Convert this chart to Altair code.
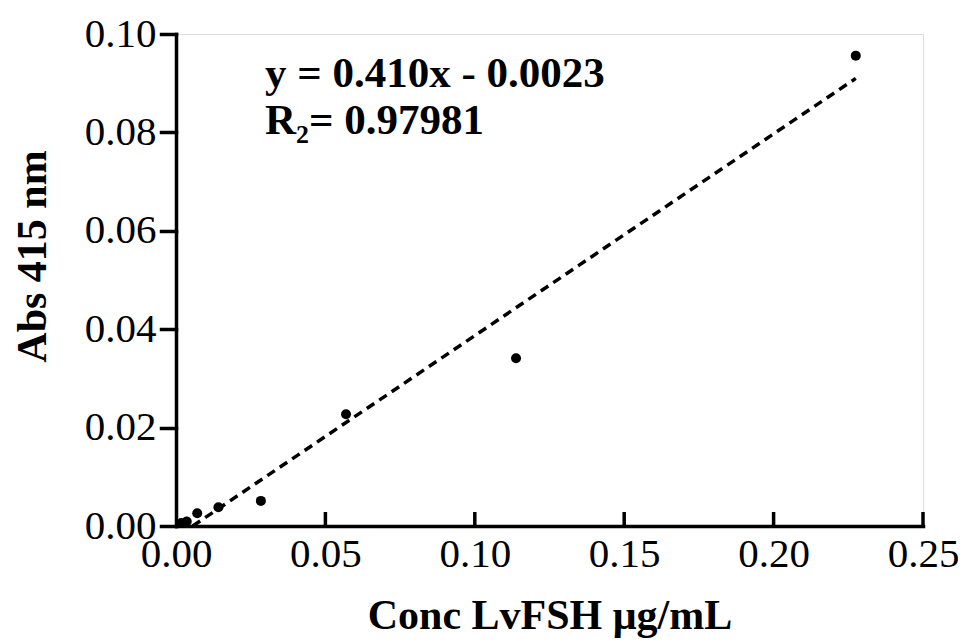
import altair as alt
import pandas as pd

# Data
conc = [0.0018, 0.0036, 0.0071, 0.0142, 0.0284, 0.0569, 0.1138, 0.2275]
absorb = [0.0006, 0.0009, 0.0026, 0.0038, 0.0051, 0.0227, 0.0341, 0.0956]

slope = 0.410
intercept = -0.0023
fit_x = [0.0056, 0.2275]

x_ticks = [0.0, 0.05, 0.10, 0.15, 0.20, 0.25]
y_ticks = [0.0, 0.02, 0.04, 0.06, 0.08, 0.10]

ann_text = ["y = 0.410x - 0.0023", "R\u2082= 0.97981"]
ann_x = [0.0298, 0.0298]
ann_y = [0.0893, 0.0796]

W, H = 747, 492
FONT = "Liberation Serif"

pts = pd.DataFrame({"x": conc, "y": absorb})
fit = pd.DataFrame({"x": fit_x, "y": [slope * v + intercept for v in fit_x]})
ticks_df = pd.DataFrame({"t": x_ticks[1:]})
ann = pd.DataFrame({"x": ann_x, "y": ann_y, "label": ann_text})

xscale = alt.Scale(domain=[0, 0.25], nice=False, zero=True)
yscale = alt.Scale(domain=[0, 0.10], nice=False, zero=True)

xaxis = alt.Axis(
    values=x_ticks, format=".2f", title="Conc LvFSH \u03bcg/mL",
    grid=False, ticks=False, domainColor="black", domainWidth=3.5,
    domainCap="square", labelFont=FONT, labelFontSize=41, labelColor="black",
    labelPadding=8, labelFlush=False, labelOverlap=False,
    titleFont=FONT, titleFontSize=42, titleFontWeight="bold", titleColor="black",
    titleX=W / 2, titleY=102, titleBaseline="alphabetic", titleAlign="center",
)
yaxis = alt.Axis(
    values=y_ticks, format=".2f", title="Abs 415 nm",
    grid=False, ticks=True, tickSize=15, tickWidth=3.5, tickColor="black",
    tickCap="square", domainColor="black", domainWidth=3.5, domainCap="square",
    labelFont=FONT, labelFontSize=41, labelColor="black", labelPadding=5,
    labelFlush=False, labelOverlap=False,
    titleFont=FONT, titleFontSize=42, titleFontWeight="bold", titleColor="black",
    titleX=-131, titleY=222, titleAngle=270, titleAlign="center",
    titleBaseline="alphabetic",
)

points = alt.Chart(pts).mark_circle(size=100, color="black", opacity=1).encode(
    x=alt.X("x:Q", scale=xscale, axis=xaxis),
    y=alt.Y("y:Q", scale=yscale, axis=yaxis),
)

line = alt.Chart(fit).mark_line(
    color="black", strokeWidth=3.5, strokeDash=[9, 6], clip=True
).encode(x=alt.X("x:Q", scale=xscale), y=alt.Y("y:Q", scale=yscale))

xticks = alt.Chart(ticks_df).mark_rule(color="black", strokeWidth=3.5).encode(
    x=alt.X("t:Q", scale=xscale),
    y=alt.value(H),
    y2=alt.value(H - 14),
)

text = alt.Chart(ann).mark_text(
    font=FONT, fontSize=43, fontWeight="bold", align="left",
    baseline="alphabetic", color="black"
).encode(
    x=alt.X("x:Q", scale=xscale),
    y=alt.Y("y:Q", scale=yscale),
    text="label:N",
)

chart = alt.layer(line, points, xticks, text).properties(
    width=W, height=H,
    autosize=alt.AutoSizeParams(type="none"),
    padding={"left": 168, "top": 26, "right": 35, "bottom": 116},
).configure_view(stroke=None).configure(background="white")

chart.save("out.html", embed_options={"renderer": "svg", "actions": False})
